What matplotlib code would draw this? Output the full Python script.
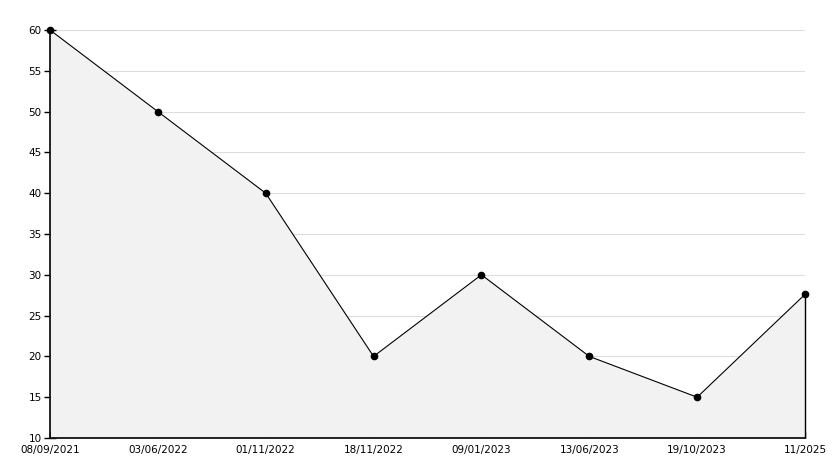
import matplotlib
matplotlib.use("Agg")
import matplotlib.pyplot as plt
from matplotlib.ticker import MultipleLocator
import numpy as np

categories = ["08/09/2021", "03/06/2022", "01/11/2022", "18/11/2022",
              "09/01/2023", "13/06/2023", "19/10/2023", "11/2025"]
values = [60, 50, 40, 20, 30, 20, 15, 27.6]
y_min, y_max = 10, 60

fig = plt.figure(figsize=(8.34, 4.68), dpi=100)
W, H = 834, 468
ax = fig.add_axes([50 / W, (H - 438) / H, (805 - 50) / W, (438 - 30) / H])

x = np.arange(len(categories))
ax.fill_between(x, values, y_min, color="#f2f2f2", linewidth=0, zorder=1)
ax.plot(x, values, color="black", linewidth=0.8, zorder=5, clip_on=False,
        marker="o", markersize=4.5, markerfacecolor="black", markeredgecolor="black")
ax.vlines(x[-1], y_min, values[-1], color="black", linewidth=1.0, zorder=5,
          clip_on=False)

ax.set_xlim(x[0], x[-1])
ax.set_ylim(y_min, y_max)
ax.set_xticks(x)
ax.set_xticklabels(categories)
ax.yaxis.set_major_locator(MultipleLocator(5))
ax.yaxis.set_minor_locator(MultipleLocator(1))
ax.grid(axis="y", which="major", color="#dddddd", linewidth=0.8, zorder=0)
ax.set_axisbelow(True)

for s in ["top", "right"]:
    ax.spines[s].set_visible(False)
for s in ["left", "bottom"]:
    ax.spines[s].set_linewidth(1.2)
    ax.spines[s].set_zorder(4)

ax.tick_params(axis="y", which="major", direction="inout", length=8, width=1,
               labelsize=7.5, pad=2)
ax.tick_params(axis="y", which="minor", direction="in", length=3, width=1)
ax.tick_params(axis="x", which="major", direction="in", length=4, width=1,
               labelsize=7.5, pad=5)

fig.savefig("out.png", dpi=100)
